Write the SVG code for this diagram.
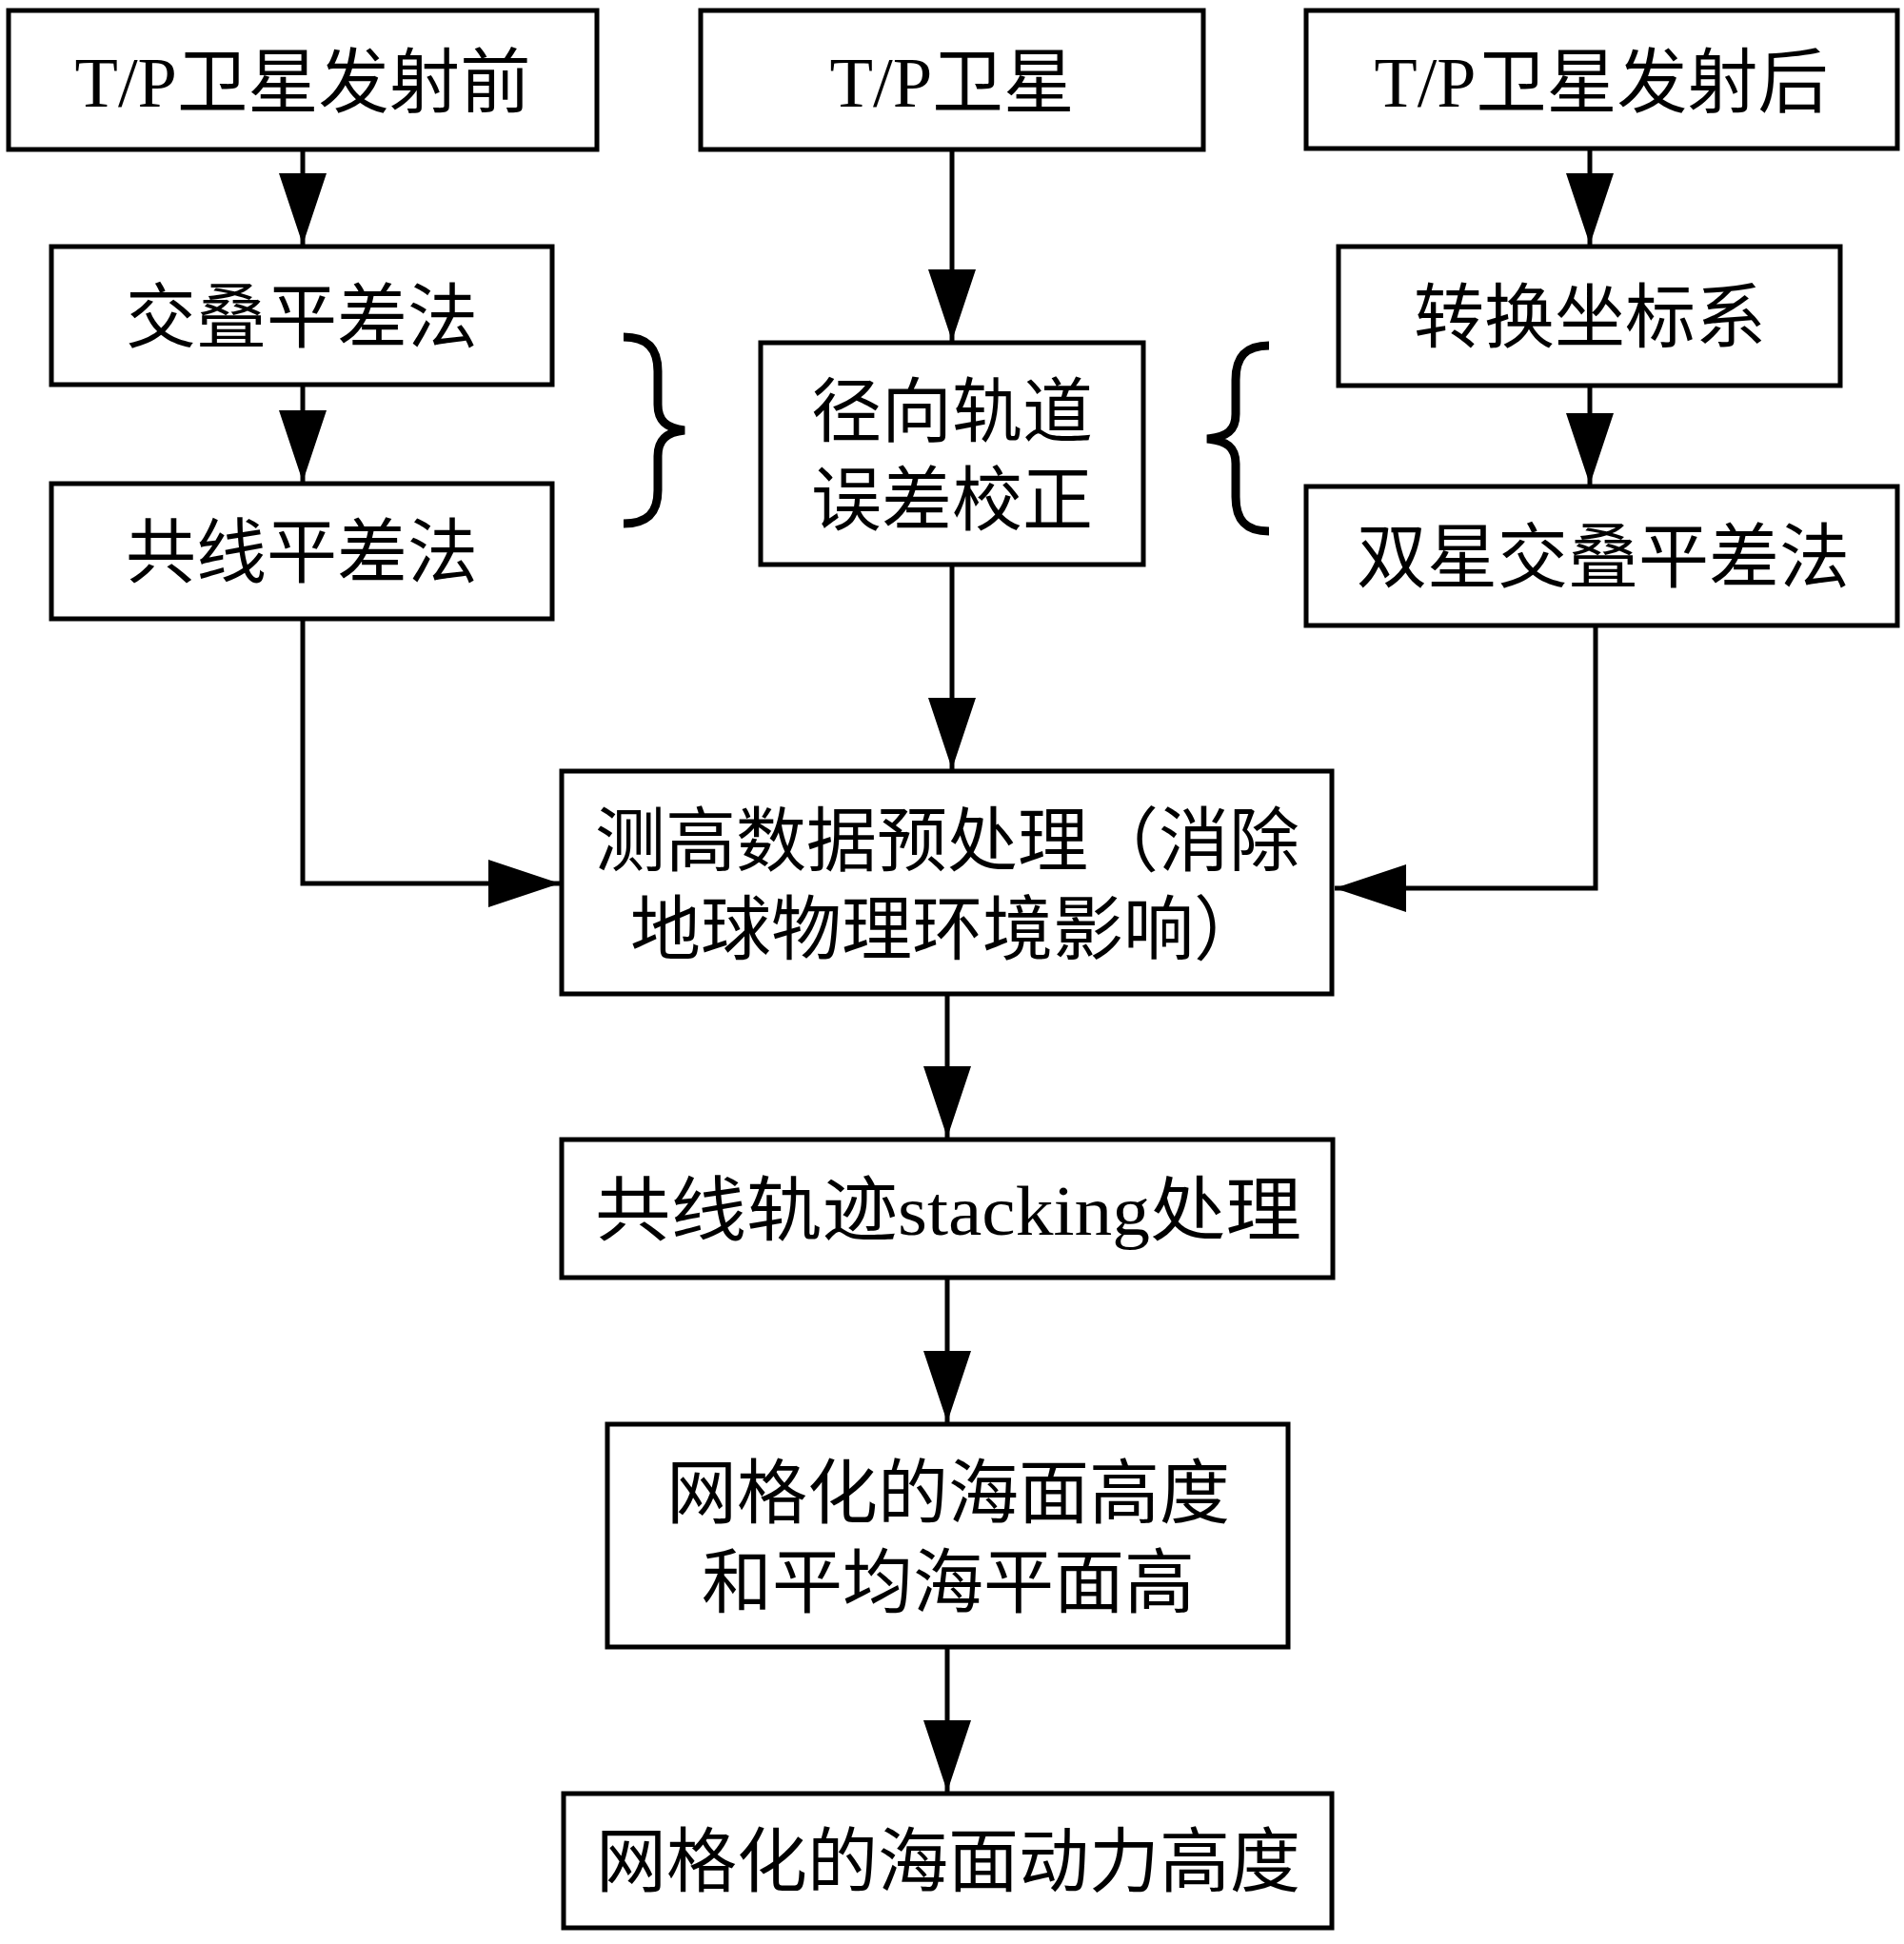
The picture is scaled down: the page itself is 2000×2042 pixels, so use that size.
<svg xmlns="http://www.w3.org/2000/svg" width="2000" height="2042" viewBox="0 0 2000 2042">
<defs>
<style>
.box{fill:#fff;stroke:#000;stroke-width:5}
.t{font-family:"Liberation Serif","Noto Sans CJK SC",serif;font-size:74px;fill:#000;text-anchor:middle}
.c{fill:none;stroke:#000;stroke-width:5}
.br{fill:none;stroke:#000;stroke-width:9;stroke-linejoin:miter}
</style>
<marker id="ah" markerUnits="userSpaceOnUse" viewBox="-76 -26 77 52" refX="0" refY="0" markerWidth="77" markerHeight="52" orient="auto">
<path d="M0,0 L-75,-25 L-75,25 Z" fill="#000"/>
</marker>
</defs>
<rect width="2000" height="2042" fill="#fff"/>

<g id="connectors">
<path class="c" d="M318,157 V257" marker-end="url(#ah)"/>
<path class="c" d="M318,404 V506" marker-end="url(#ah)"/>
<path class="c" d="M1000,157 V358" marker-end="url(#ah)"/>
<path class="c" d="M1670,156 V257" marker-end="url(#ah)"/>
<path class="c" d="M1670,405 V509" marker-end="url(#ah)"/>
<path class="c" d="M318,650 V928 H588" marker-end="url(#ah)"/>
<path class="c" d="M1676,643 V933 H1402" marker-end="url(#ah)"/>
<path class="c" d="M1000,593 V808" marker-end="url(#ah)"/>
<path class="c" d="M995,1044 V1195" marker-end="url(#ah)"/>
<path class="c" d="M995,1342 V1494" marker-end="url(#ah)"/>
<path class="c" d="M995,1730 V1882" marker-end="url(#ah)"/>
</g>

<g id="brace-left">
<path class="br" d="M655,354 C680,354 691,366 691,390 L691,425 C691,442 700,450 719,452 C700,454 691,462 691,479 L691,515 C691,539 680,550 655,550"/>
</g>
<g id="brace-right">
<path class="br" d="M1333,363 C1308,363 1298,375 1298,399 L1298,435 C1298,452 1289,459 1268,461 C1289,463 1298,470 1298,487 L1298,522 C1298,546 1308,558 1333,558"/>
</g>

<g id="n1">
<rect class="box" x="9" y="11" width="618" height="146"/>
<text class="t" x="318" y="112" textLength="479" lengthAdjust="spacingAndGlyphs">T/P卫星发射前</text>
</g>
<g id="n2">
<rect class="box" x="736" y="11" width="528" height="146"/>
<text class="t" x="1000" y="112" textLength="257" lengthAdjust="spacingAndGlyphs">T/P卫星</text>
</g>
<g id="n3">
<rect class="box" x="1372" y="11" width="621" height="145"/>
<text class="t" x="1682" y="112" textLength="477" lengthAdjust="spacingAndGlyphs">T/P卫星发射后</text>
</g>
<g id="n4">
<rect class="box" x="54" y="259" width="526" height="145"/>
<text class="t" x="317" y="359">交叠平差法</text>
</g>
<g id="n5">
<rect class="box" x="54" y="508" width="526" height="142"/>
<text class="t" x="317" y="606">共线平差法</text>
</g>
<g id="n6">
<rect class="box" x="799" y="360" width="402" height="233"/>
<text class="t" x="1000" y="458">径向轨道</text>
<text class="t" x="1000" y="551">误差校正</text>
</g>
<g id="n7">
<rect class="box" x="1406" y="259" width="527" height="146"/>
<text class="t" x="1670" y="359">转换坐标系</text>
</g>
<g id="n8">
<rect class="box" x="1372" y="511" width="621" height="146"/>
<text class="t" x="1684" y="611">双星交叠平差法</text>
</g>
<g id="n9">
<rect class="box" x="590" y="810" width="809" height="234"/>
<text class="t" x="995" y="909">测高数据预处理（消除</text>
<text class="t" x="995" y="1002">地球物理环境影响）</text>
</g>
<g id="n10">
<rect class="box" x="590" y="1197" width="810" height="145"/>
<text class="t" x="996" y="1297" textLength="742" lengthAdjust="spacingAndGlyphs">共线轨迹stacking处理</text>
</g>
<g id="n11">
<rect class="box" x="638" y="1496" width="715" height="234"/>
<text class="t" x="996" y="1594">网格化的海面高度</text>
<text class="t" x="996" y="1688">和平均海平面高</text>
</g>
<g id="n12">
<rect class="box" x="592" y="1884" width="807" height="141"/>
<text class="t" x="996" y="1981">网格化的海面动力高度</text>
</g>
</svg>
